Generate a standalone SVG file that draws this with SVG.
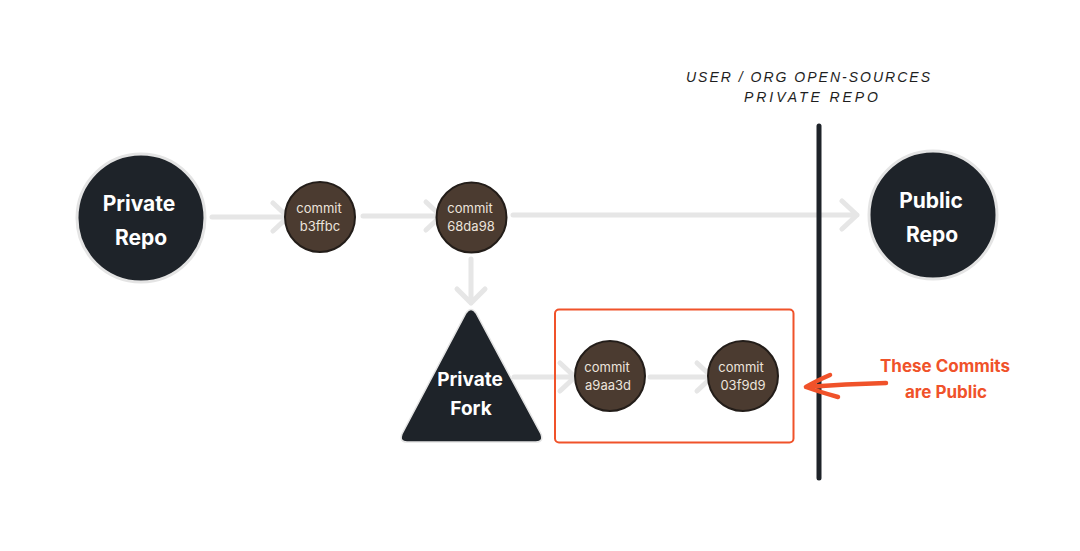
<svg xmlns="http://www.w3.org/2000/svg" width="1080" height="551" viewBox="0 0 1080 551">
<style>
.conn{fill:none;stroke:#e6e6e6;stroke-width:5;stroke-linecap:round;stroke-linejoin:round}
.repo{fill:#1e2329;stroke:#e4e4e4;stroke-width:3}
.commit{fill:#4b3b30;stroke:#231d19;stroke-width:2}
.big{font-family:Inter,"Liberation Sans",sans-serif;font-weight:700;fill:#ffffff;text-anchor:middle}
.ct{font-family:Inter,"Liberation Sans",sans-serif;font-size:13px;fill:#ece4dc;text-anchor:middle}
.hand{font-family:"Liberation Sans",sans-serif;font-size:14px;fill:#1e1e1e;text-anchor:middle;font-style:italic}
.red{font-family:Inter,"Liberation Sans",sans-serif;font-weight:700;font-size:17px;fill:#f0522a;text-anchor:middle}
</style>
<rect width="1080" height="551" fill="#ffffff"/>
<g id="connectors">
<path class="conn" d="M212 217 L288 217 M273 203 L288 217 L273 231"/>
<path class="conn" d="M363 216 L441 216 M426 202 L441 216 L426 230"/>
<path class="conn" d="M513 215 L857 215 M842 201 L857 215 L842 229"/>
<path class="conn" d="M471 259 L471 303 M457 289 L471 303 L485 289"/>
<path class="conn" d="M514 377 L575 377 M560 363 L575 377 L560 391"/>
<path class="conn" d="M650 377 L712 377 M697 363 L712 377 L697 391"/>
</g>
<g id="boundary">
<line x1="819" y1="126" x2="819" y2="478" stroke="#1e2329" stroke-width="5" stroke-linecap="round"/>
<text class="hand" x="808" y="82" textLength="244" lengthAdjust="spacing">USER / ORG OPEN-SOURCES</text>
<text class="hand" x="811" y="102" textLength="134" lengthAdjust="spacing">PRIVATE REPO</text>
</g>
<g id="private-repo">
<circle class="repo" cx="141" cy="218" r="64"/>
<text class="big" x="139" y="211" font-size="21">Private</text>
<text class="big" x="141" y="245" font-size="21">Repo</text>
</g>
<g id="commit-b3ffbc">
<circle class="commit" cx="320" cy="217" r="35"/>
<text class="ct" x="319" y="213">commit</text>
<text class="ct" x="320" y="231">b3ffbc</text>
</g>
<g id="commit-68da98">
<circle class="commit" cx="471.5" cy="217.5" r="35"/>
<text class="ct" x="470" y="213">commit</text>
<text class="ct" x="471" y="231">68da98</text>
</g>
<g id="public-repo">
<circle class="repo" cx="933" cy="215" r="64"/>
<text class="big" x="931" y="208" font-size="21">Public</text>
<text class="big" x="932" y="242" font-size="21">Repo</text>
</g>
<g id="private-fork">
<path d="M466 313 Q471 306 476 313 L541 434 Q544 442 536 442 L407 442 Q399 442 402 434 Z" fill="#1e2329" stroke="#e4e4e4" stroke-width="1.5"/>
<text class="big" x="470" y="386" font-size="19">Private</text>
<text class="big" x="471" y="415" font-size="19">Fork</text>
</g>
<g id="public-commits">
<rect x="555" y="309.5" width="238.5" height="133" rx="4" fill="none" stroke="#f0522a" stroke-width="2"/>
</g>
<g id="commit-a9aa3d">
<circle class="commit" cx="610" cy="376" r="35"/>
<text class="ct" x="607" y="372">commit</text>
<text class="ct" x="608" y="390">a9aa3d</text>
</g>
<g id="commit-03f9d9">
<circle class="commit" cx="743" cy="376" r="35"/>
<text class="ct" x="741" y="372">commit</text>
<text class="ct" x="743" y="390">03f9d9</text>
</g>
<g id="annotation">
<path d="M886 383 Q845 384 806 387 M830 375 Q816 381 806 387 Q820 392 838 397" fill="none" stroke="#f0522a" stroke-width="4.5" stroke-linecap="round" stroke-linejoin="round"/>
<text class="red" x="945" y="372">These Commits</text>
<text class="red" x="946" y="398">are Public</text>
</g>
</svg>
